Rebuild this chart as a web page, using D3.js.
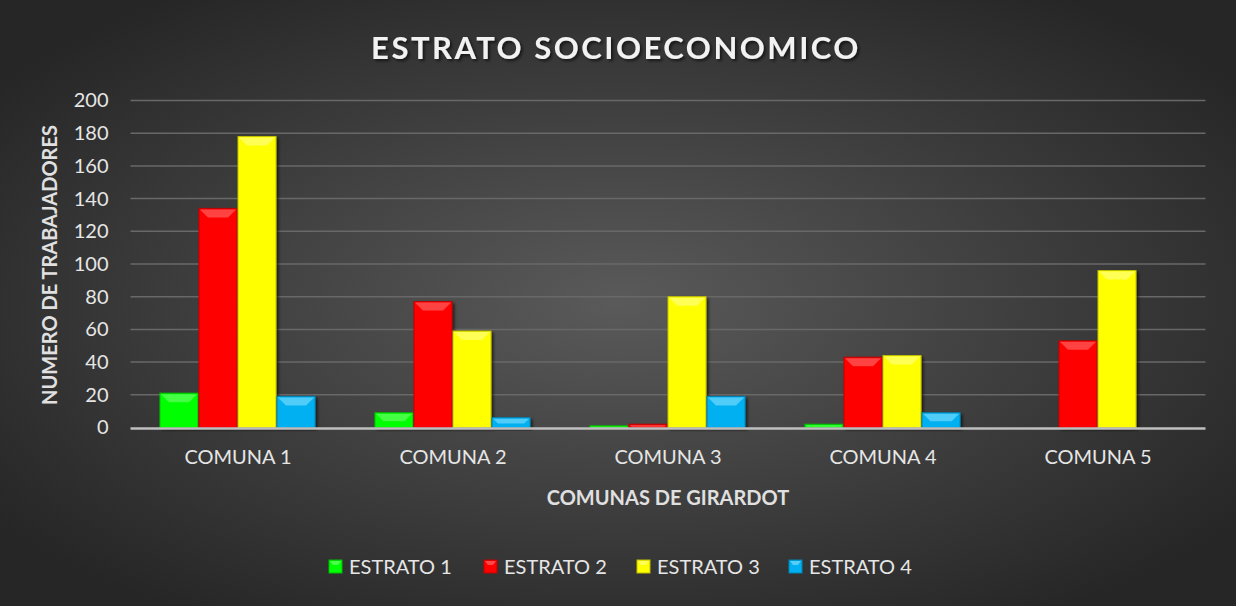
<!DOCTYPE html>
<html>
<head>
<meta charset="utf-8">
<script src="https://cdn.jsdelivr.net/npm/d3@7"></script>
<style>
  html, body { margin: 0; padding: 0; background: #262626; }
  svg { display: block; font-family: Lato, "Open Sans", sans-serif; }
</style>
</head>
<body>
<svg width="1236" height="606"></svg>
<script>
const TITLE = "ESTRATO SOCIOECONOMICO";
const Y_TITLE = "NUMERO DE TRABAJADORES";
const X_TITLE = "COMUNAS DE GIRARDOT";

const comunas = ["COMUNA 1", "COMUNA 2", "COMUNA 3", "COMUNA 4", "COMUNA 5"];
const estratos = ["ESTRATO 1", "ESTRATO 2", "ESTRATO 3", "ESTRATO 4"];
const estrato1 = [21, 9, 1, 2, 0];
const estrato2 = [134, 77, 2, 43, 53];
const estrato3 = [178, 59, 80, 44, 96];
const estrato4 = [19, 6, 19, 9, 0];
const yTicks = [0, 20, 40, 60, 80, 100, 120, 140, 160, 180, 200];

const series = [estrato1, estrato2, estrato3, estrato4];
const colors = ["#00ff00", "#ff0000", "#ffff00", "#00b0f0"];
const lights = ["#7dff7d", "#ff7a7a", "#ffff9a", "#8fe3ff"];

const width = 1236;
const height = 606;
const svg = d3.select("svg");

// background
const defs = svg.append("defs");
const bg = defs.append("radialGradient")
    .attr("id", "bg")
    .attr("cx", "50%").attr("cy", "50%").attr("r", "62%");
bg.append("stop").attr("offset", "0%").attr("stop-color", "#5a5a5a");
bg.append("stop").attr("offset", "100%").attr("stop-color", "#262626");
svg.append("rect")
    .attr("width", width).attr("height", height)
    .attr("fill", "url(#bg)");

const shadow = defs.append("filter").attr("id", "shadow")
    .attr("x", "-10%").attr("y", "-10%").attr("width", "130%").attr("height", "140%");
shadow.append("feDropShadow")
    .attr("dx", 2).attr("dy", 2).attr("stdDeviation", 1.5)
    .attr("flood-color", "#000").attr("flood-opacity", 0.6);

const x0 = d3.scaleBand()
    .domain(comunas)
    .range([130.5, 1205.5])
    .paddingInner(0.274)
    .paddingOuter(0.137);

const x1 = d3.scaleBand()
    .domain(d3.range(series.length))
    .range([0, x0.bandwidth()]);

const y = d3.scaleLinear()
    .domain([0, 200])
    .range([427.5, 100.5]);

// grid
svg.append("g")
    .selectAll("line")
    .data(yTicks.slice(1))
    .enter().append("line")
        .attr("x1", x0.range()[0])
        .attr("x2", x0.range()[1])
        .attr("y1", d => y(d))
        .attr("y2", d => y(d))
        .attr("stroke", "#686868")
        .attr("stroke-width", 1.5);

// y axis labels
const yAxis = svg.append("g")
    .attr("transform", `translate(${x0.range()[0]},0)`)
    .call(d3.axisLeft(y).tickValues(yTicks).tickSize(0).tickPadding(22));
yAxis.select(".domain").remove();
yAxis.selectAll("text")
    .attr("fill", "#e6e6e6")
    .attr("font-size", 20)
    .attr("font-family", "Lato, sans-serif");

// bars
const groups = svg.append("g")
    .selectAll("g")
    .data(comunas)
    .enter().append("g")
        .attr("transform", d => `translate(${x0(d)},0)`);

const bars = groups.selectAll("g")
    .data((c, ci) => series.map((s, si) => ({ si, v: s[ci] })))
    .enter().append("g")
        .attr("filter", "url(#shadow)");

bars.append("rect")
    .attr("x", d => x1(d.si))
    .attr("y", d => y(d.v))
    .attr("width", x1.bandwidth() - 1)
    .attr("height", d => y(0) - y(d.v))
    .attr("fill", d => colors[d.si])
    .attr("stroke", d => d3.color(colors[d.si]).darker(0.8))
    .attr("stroke-width", d => d.v > 0 ? 1 : 0);

// bevel highlight at bar tops
bars.append("path")
    .attr("d", d => {
        const h = y(0) - y(d.v);
        if (h <= 0) return null;
        const b = Math.min(8, h / 2);
        const xl = x1(d.si) + 1, xr = x1(d.si) + x1.bandwidth() - 2, t = y(d.v) + 1;
        return `M${xl},${t}L${xr},${t}L${xr - b},${t + b}L${xl + b},${t + b}Z`;
    })
    .attr("fill", d => lights[d.si])
    .attr("opacity", 0.55);

// baseline
svg.append("line")
    .attr("x1", x0.range()[0])
    .attr("x2", x0.range()[1])
    .attr("y1", y(0) + 1)
    .attr("y2", y(0) + 1)
    .attr("stroke", "#bfbfbf")
    .attr("stroke-width", 2.5);

// x axis labels
const xAxis = svg.append("g")
    .attr("transform", `translate(0,${y(0) + 1})`)
    .call(d3.axisBottom(x0).tickSize(0).tickPadding(21));
xAxis.select(".domain").remove();
xAxis.selectAll("text")
    .attr("fill", "#e6e6e6")
    .attr("font-size", 20)
    .attr("font-family", "Lato, sans-serif");

// titles
svg.append("text")
    .attr("x", 616)
    .attr("y", 59)
    .attr("text-anchor", "middle")
    .attr("fill", "#f2f2f2")
    .attr("font-size", 31)
    .attr("font-weight", "bold")
    .attr("letter-spacing", 2.5)
    .attr("filter", "url(#shadow)")
    .text(TITLE);

svg.append("text")
    .attr("transform", "translate(57,265) rotate(-90)")
    .attr("text-anchor", "middle")
    .attr("fill", "#e0e0e0")
    .attr("font-size", 20)
    .attr("font-weight", "bold")
    .text(Y_TITLE);

svg.append("text")
    .attr("x", 668)
    .attr("y", 505)
    .attr("text-anchor", "middle")
    .attr("fill", "#e0e0e0")
    .attr("font-size", 20)
    .attr("font-weight", "bold")
    .text(X_TITLE);

// legend
const legendX = [329, 484, 637, 789];
const legend = svg.append("g")
    .selectAll("g")
    .data(estratos)
    .enter().append("g")
        .attr("transform", (d, i) => `translate(${legendX[i]},560)`);
legend.append("rect")
    .attr("width", 13).attr("height", 13)
    .attr("fill", (d, i) => colors[i])
    .attr("stroke", (d, i) => d3.color(colors[i]).darker(0.8));
legend.append("path")
    .attr("d", "M1,1L12,1L9,5L4,5Z")
    .attr("fill", (d, i) => lights[i])
    .attr("opacity", 0.6);
legend.append("text")
    .attr("x", 20)
    .attr("y", 14)
    .attr("fill", "#e6e6e6")
    .attr("font-size", 20)
    .text(d => d);
</script>
</body>
</html>
